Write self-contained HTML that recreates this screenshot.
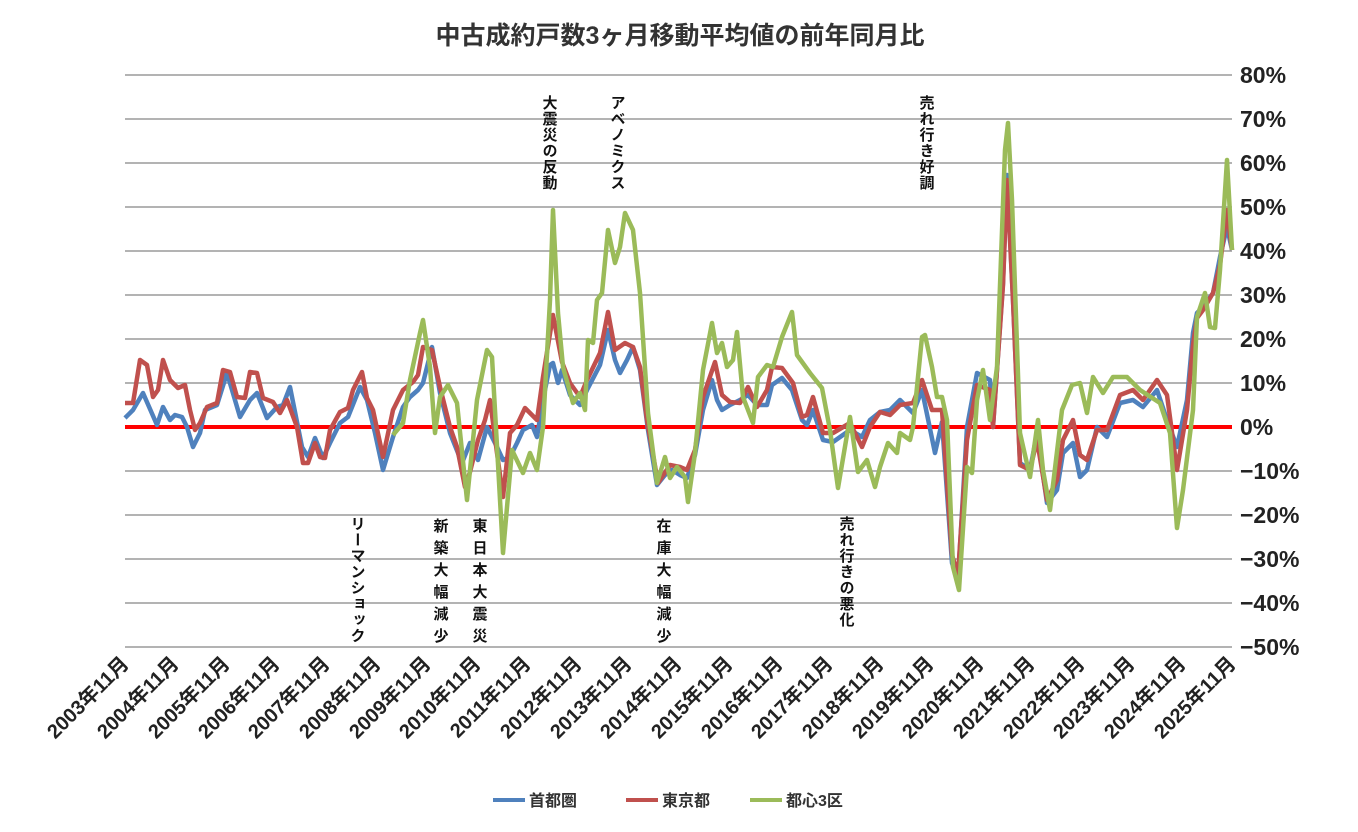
<!DOCTYPE html>
<html><head><meta charset="utf-8"><style>
body{margin:0;background:#fff}
svg text{font-family:"Liberation Sans","Noto Sans CJK JP",sans-serif}
</style></head><body>
<svg width="1358" height="827" viewBox="0 0 1358 827">
<rect width="1358" height="827" fill="#fff"/>
<text x="680" y="44" text-anchor="middle" font-size="25" font-weight="bold" fill="#333">中古成約戸数3ヶ月移動平均値の前年同月比</text>
<g stroke="#9a9a9a" stroke-width="1.5">
<line x1="125" y1="75" x2="1232" y2="75"/><line x1="125" y1="119" x2="1232" y2="119"/><line x1="125" y1="163" x2="1232" y2="163"/><line x1="125" y1="207" x2="1232" y2="207"/><line x1="125" y1="251" x2="1232" y2="251"/><line x1="125" y1="295" x2="1232" y2="295"/><line x1="125" y1="339" x2="1232" y2="339"/><line x1="125" y1="383" x2="1232" y2="383"/><line x1="125" y1="471" x2="1232" y2="471"/><line x1="125" y1="515" x2="1232" y2="515"/><line x1="125" y1="559" x2="1232" y2="559"/><line x1="125" y1="603" x2="1232" y2="603"/><line x1="125" y1="647" x2="1232" y2="647"/>
</g>
<g font-size="23" fill="#222" font-weight="bold">
<text x="1240" y="83">80%</text><text x="1240" y="127">70%</text><text x="1240" y="171">60%</text><text x="1240" y="215">50%</text><text x="1240" y="259">40%</text><text x="1240" y="303">30%</text><text x="1240" y="347">20%</text><text x="1240" y="391">10%</text><text x="1240" y="435">0%</text><text x="1240" y="479">−10%</text><text x="1240" y="523">−20%</text><text x="1240" y="567">−30%</text><text x="1240" y="611">−40%</text><text x="1240" y="655">−50%</text>
</g>
<g font-size="20" font-weight="bold" fill="#222" text-anchor="end">
<text transform="translate(130,665) rotate(-45)">2003年11月</text>
<text transform="translate(180,665) rotate(-45)">2004年11月</text>
<text transform="translate(231,665) rotate(-45)">2005年11月</text>
<text transform="translate(281,665) rotate(-45)">2006年11月</text>
<text transform="translate(331,665) rotate(-45)">2007年11月</text>
<text transform="translate(382,665) rotate(-45)">2008年11月</text>
<text transform="translate(432,665) rotate(-45)">2009年11月</text>
<text transform="translate(482,665) rotate(-45)">2010年11月</text>
<text transform="translate(532,665) rotate(-45)">2011年11月</text>
<text transform="translate(583,665) rotate(-45)">2012年11月</text>
<text transform="translate(633,665) rotate(-45)">2013年11月</text>
<text transform="translate(683,665) rotate(-45)">2014年11月</text>
<text transform="translate(734,665) rotate(-45)">2015年11月</text>
<text transform="translate(784,665) rotate(-45)">2016年11月</text>
<text transform="translate(834,665) rotate(-45)">2017年11月</text>
<text transform="translate(885,665) rotate(-45)">2018年11月</text>
<text transform="translate(935,665) rotate(-45)">2019年11月</text>
<text transform="translate(985,665) rotate(-45)">2020年11月</text>
<text transform="translate(1036,665) rotate(-45)">2021年11月</text>
<text transform="translate(1086,665) rotate(-45)">2022年11月</text>
<text transform="translate(1136,665) rotate(-45)">2023年11月</text>
<text transform="translate(1187,665) rotate(-45)">2024年11月</text>
<text transform="translate(1237,665) rotate(-45)">2025年11月</text>
</g>
<line x1="125" y1="427" x2="1232" y2="427" stroke="#f00" stroke-width="4"/>
<g fill="none" stroke-width="4.5" stroke-linejoin="round">
<polyline stroke="#4f81bd" points="125,418 133,410 143,393 157,425 163,407 170,420 175,415 182,417 187,427 193,447 200,433 205,410 217,405 227,373 240,417 250,400 257,393 267,418 277,407 283,405 290,387 302,447 308,457 315,438 323,458 330,443 340,423 348,417 360,387 367,400 375,433 383,470 393,437 403,407 410,397 418,390 423,383 432,347 440,393 450,433 462,463 470,443 478,460 487,427 497,447 503,460 510,457 517,443 523,430 532,425 537,437 543,400 550,365 553,363 558,383 562,370 570,395 580,405 587,390 600,365 608,330 615,360 620,373 627,360 633,347 640,370 648,430 657,485 665,475 672,470 680,475 687,478 695,455 703,410 712,380 717,400 722,410 730,405 740,400 748,395 757,405 767,405 772,385 782,378 792,390 802,420 807,425 813,410 823,440 833,442 850,430 862,437 870,420 880,412 890,410 900,400 913,413 922,390 935,453 942,422 952,563 958,580 967,427 977,373 990,380 993,427 1003,283 1007,175 1013,300 1020,463 1030,470 1037,433 1047,503 1057,490 1063,453 1073,443 1080,477 1087,470 1097,427 1107,437 1120,403 1133,400 1143,407 1157,390 1167,420 1177,447 1187,400 1193,333 1197,313 1203,307 1213,293 1220,257 1227,227 1232,250"/>
<polyline stroke="#c0504d" points="125,403 133,403 140,360 147,365 153,397 158,390 163,360 170,380 178,388 185,385 190,410 195,430 200,423 207,407 217,403 223,370 230,372 237,397 245,398 250,372 257,373 263,398 273,402 280,413 287,400 297,427 303,463 308,463 315,443 320,457 325,458 330,430 340,412 348,408 353,390 362,372 367,398 373,410 383,457 393,410 403,390 413,382 418,375 423,347 432,350 440,387 450,427 457,447 465,487 470,472 478,440 485,420 490,400 497,453 503,497 510,433 517,425 525,408 530,413 537,420 543,377 553,315 562,362 570,383 580,397 587,380 600,353 608,312 615,350 625,343 633,347 640,367 647,420 658,483 670,465 680,467 687,470 695,450 703,397 715,362 722,395 730,402 740,403 748,387 757,407 767,390 772,367 782,368 793,383 802,417 807,415 813,397 823,433 833,433 850,423 862,447 870,427 880,412 890,415 900,405 913,403 922,380 932,410 942,410 952,555 958,575 967,440 977,385 990,390 993,427 1003,285 1007,180 1013,300 1020,465 1030,470 1037,440 1047,500 1057,480 1063,440 1073,420 1080,455 1087,460 1097,430 1107,430 1120,395 1133,390 1143,400 1157,380 1167,395 1177,470 1187,410 1193,345 1197,318 1203,310 1213,293 1220,265 1227,210 1232,250"/>
<polyline stroke="#9bbb59" points="393,435 403,423 410,380 420,333 423,320 430,367 435,433 440,397 448,385 457,403 467,500 477,400 487,350 492,357 503,553 512,450 523,473 530,453 537,470 543,427 550,300 553,210 558,313 563,367 573,403 580,393 585,410 588,340 593,343 597,300 602,293 608,230 615,263 620,247 625,213 633,230 640,293 648,413 657,483 665,457 670,478 677,467 685,477 688,502 695,453 703,370 712,323 717,353 722,343 727,367 733,360 737,332 743,397 753,423 758,377 767,365 773,367 782,337 792,312 797,355 810,373 822,388 830,430 838,488 850,417 858,472 867,460 875,487 880,467 888,443 897,453 900,433 910,440 913,427 922,337 925,335 932,367 937,397 942,397 947,420 953,567 959,590 967,467 972,473 977,400 983,370 990,420 997,367 1005,150 1008,123 1012,200 1020,433 1030,477 1038,420 1043,470 1050,510 1062,410 1072,385 1080,383 1087,413 1093,377 1103,393 1113,377 1127,377 1140,390 1160,403 1170,433 1177,528 1183,490 1193,410 1197,317 1205,293 1210,327 1215,328 1220,270 1227,160 1232,250"/>
</g>
<g font-size="15" font-weight="bold" fill="#111" style="writing-mode:vertical-rl;letter-spacing:1px">
<text x="549" y="95">大震災の反動</text>
<text x="617" y="95">アベノミクス</text>
<text x="926" y="95">売れ行き好調</text>
<text x="357" y="516">リーマンショック</text>
<text x="440" y="518" style="letter-spacing:7px">新築大幅減少</text>
<text x="479" y="518" style="letter-spacing:7px">東日本大震災</text>
<text x="663" y="518" style="letter-spacing:7px">在庫大幅減少</text>
<text x="846" y="516">売れ行きの悪化</text>
</g>
<g font-size="16" font-weight="bold" fill="#333">
<line x1="493" y1="800" x2="525" y2="800" stroke="#4f81bd" stroke-width="4"/><text x="529" y="806">首都圏</text>
<line x1="626" y1="800" x2="658" y2="800" stroke="#c0504d" stroke-width="4"/><text x="662" y="806">東京都</text>
<line x1="750" y1="800" x2="782" y2="800" stroke="#9bbb59" stroke-width="4"/><text x="786" y="806">都心3区</text>
</g>
</svg>
</body></html>
